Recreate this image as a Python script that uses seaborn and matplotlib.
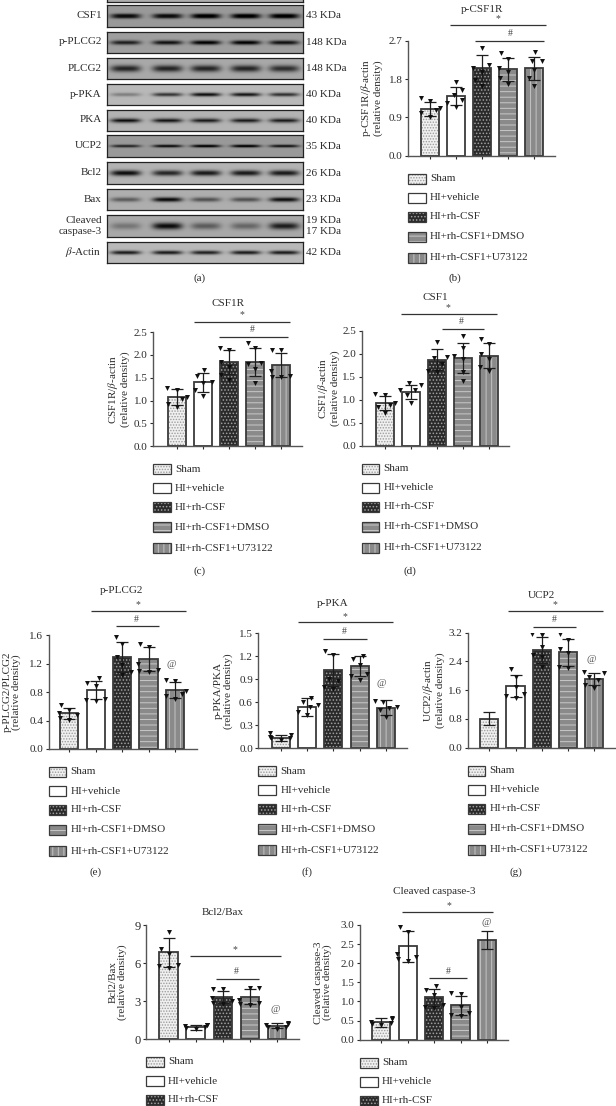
import numpy as np
import pandas as pd
import seaborn as sns
import matplotlib.pyplot as plt
from matplotlib.patches import Rectangle
from matplotlib.transforms import Affine2D

W, H = 616, 1106
groups = ["Sham", "HI+vehicle", "HI+rh-CSF", "HI+rh-CSF1+DMSO", "HI+rh-CSF1+U73122"]

# blot rows
blot_names = ["CSF1", "p-PLCG2", "PLCG2", "p-PKA", "PKA", "UCP2", "Bcl2", "Bax", "Cleaved\ncaspase-3", r"$\beta$-Actin"]
blot_kda = ["43 KDa", "148 KDa", "148 KDa", "40 KDa", "40 KDa", "35 KDa", "26 KDa", "23 KDa", "19 KDa\n17 KDa", "42 KDa"]
blot_strength = [
    [0.55, 0.55, 0.62, 0.62, 0.62],
    [0.50, 0.55, 0.62, 0.62, 0.55],
    [0.52, 0.52, 0.52, 0.52, 0.48],
    [0.22, 0.50, 0.65, 0.62, 0.52],
    [0.68, 0.65, 0.62, 0.62, 0.62],
    [0.45, 0.55, 0.60, 0.60, 0.52],
    [0.65, 0.55, 0.60, 0.60, 0.60],
    [0.32, 0.64, 0.36, 0.36, 0.62],
    [0.20, 0.62, 0.30, 0.26, 0.55],
    [0.60, 0.60, 0.58, 0.60, 0.60],
]
blot_thick = [2.0, 2.2, 3.4, 1.9, 2.6, 1.5, 2.8, 2.3, 3.4, 2.0]
blot_bg = [0.60, 0.62, 0.66, 0.72, 0.70, 0.60, 0.70, 0.68, 0.66, 0.72]
blot_top = [5.3, 31.7, 58.0, 84.3, 109.7, 135.3, 162.3, 189.0, 215.3, 242.3]
blot_bottom = [26.7, 52.7, 79.3, 105.3, 131.3, 157.3, 184.0, 210.3, 237.0, 263.3]
lane_x = [125, 166.7, 205, 245, 283.3]

# bar panels
means_b = [1.10, 1.40, 2.06, 2.03, 2.06]
sds_b = [0.16, 0.21, 0.31, 0.26, 0.27]
points_b = [[1.35, 1.28, 1.13, 1.08, 1.00, 0.92], [1.74, 1.55, 1.43, 1.31, 1.23, 1.15],
            [2.53, 2.13, 2.06, 1.98, 1.78, 1.64], [2.41, 2.27, 2.06, 1.98, 1.82, 1.69],
            [2.43, 2.23, 2.23, 2.02, 1.82, 1.64]]
means_c = [1.08, 1.40, 1.84, 1.84, 1.78]
sds_c = [0.17, 0.21, 0.26, 0.31, 0.27]
points_c = [[1.27, 1.23, 1.07, 1.04, 0.92, 0.87], [1.67, 1.54, 1.41, 1.38, 1.23, 1.11],
            [2.16, 2.11, 1.85, 1.74, 1.56, 1.45], [2.27, 2.14, 1.83, 1.81, 1.68, 1.39],
            [2.11, 2.11, 1.65, 1.54, 1.52, 1.51]]
means_d = [0.92, 1.17, 1.87, 1.90, 1.96]
sds_d = [0.15, 0.16, 0.23, 0.33, 0.27]
points_d = [[1.12, 1.10, 0.92, 0.88, 0.85, 0.72], [1.37, 1.32, 1.22, 1.21, 1.10, 0.92],
            [2.26, 1.92, 1.90, 1.78, 1.63, 1.61], [2.38, 2.12, 1.95, 1.88, 1.61, 1.41],
            [2.33, 2.22, 1.99, 1.88, 1.70, 1.63]]
means_e = [0.50, 0.83, 1.29, 1.27, 0.83]
sds_e = [0.08, 0.13, 0.21, 0.17, 0.11]
points_e = [[0.62, 0.55, 0.51, 0.48, 0.44, 0.41], [1.00, 0.93, 0.88, 0.71, 0.69, 0.67],
            [1.58, 1.48, 1.29, 1.18, 1.09, 1.04], [1.48, 1.43, 1.19, 1.11, 1.10, 1.09],
            [0.97, 0.95, 0.82, 0.78, 0.75, 0.70]]
means_f = [0.13, 0.54, 1.02, 1.07, 0.53]
sds_f = [0.04, 0.12, 0.21, 0.13, 0.10]
points_f = [[0.20, 0.17, 0.15, 0.13, 0.13, 0.11], [0.66, 0.61, 0.57, 0.54, 0.48, 0.43],
            [1.27, 1.22, 0.91, 0.88, 0.80, 0.78], [1.20, 1.17, 1.09, 0.97, 0.94, 0.89],
            [0.62, 0.61, 0.54, 0.52, 0.50, 0.41]]
means_g = [0.80, 1.71, 2.71, 2.65, 1.91]
sds_g = [0.18, 0.30, 0.36, 0.38, 0.17]
points_g = [[], [2.18, 1.96, 1.68, 1.49, 1.44, 1.37],
            [3.15, 3.14, 2.79, 2.58, 2.51, 2.25], [3.16, 3.01, 2.74, 2.63, 2.25, 2.23],
            [2.11, 2.07, 1.98, 1.88, 1.74, 1.65]]
means_h = [6.84, 0.92, 3.34, 3.34, 1.03]
sds_h = [1.16, 0.18, 0.48, 0.58, 0.20]
points_h = [[8.47, 7.10, 6.71, 5.84, 5.79, 5.63], [1.10, 1.10, 1.05, 0.92, 0.90, 0.79],
            [3.92, 3.92, 3.20, 3.03, 2.87, 2.76], [4.05, 4.00, 3.08, 2.82, 2.74, 2.68],
            [1.24, 1.18, 1.10, 0.97, 0.92, 0.79]]
means_i = [0.45, 2.44, 1.11, 0.90, 2.61]
sds_i = [0.11, 0.41, 0.22, 0.25, 0.24]
points_i = [[0.58, 0.55, 0.47, 0.43, 0.40, 0.38], [2.96, 2.82, 2.24, 2.15, 2.10, 2.06],
            [1.40, 1.30, 1.17, 0.91, 0.86, 0.84], [1.23, 1.19, 0.86, 0.71, 0.65, 0.62], []]

ticks_b = ["0.0", "0.9", "1.8", "2.7"]
ticks_25 = ["0.0", "0.5", "1.0", "1.5", "2.0", "2.5"]
ticks_e = ["0.0", "0.4", "0.8", "1.2", "1.6"]
ticks_f = ["0.0", "0.3", "0.6", "0.9", "1.2", "1.5"]
ticks_g = ["0.0", "0.8", "1.6", "2.4", "3.2"]
ticks_h = ["0", "3", "6", "9"]
ticks_i = ["0.0", "0.5", "1.0", "1.5", "2.0", "2.5", "3.0"]

panels = [
    dict(m=means_b, s=sds_b, p=points_b, t=ticks_b, box=(408, 555, 41, 155.7), c0=430, c4=533.7, ylab=r"p-CSF1R/$\beta$-actin", lab=-37,
         title=("p-CSF1R", 481.7, 9), star=(497.7, 19, 25, 450, 545.7), hash=(510, 34, 41.3, 475, 544), at=None, tag=("(b)", 455, 277.7), n=5),
    dict(m=means_c, s=sds_c, p=points_c, t=ticks_25, box=(153, 302, 332, 446.3), c0=176.7, c4=281, ylab=r"CSF1R/$\beta$-actin", lab=-35,
         title=("CSF1R", 228, 303), star=(241.7, 315, 321.7, 194, 290), hash=(252, 329, 336.7, 219, 288), at=None, tag=("(c)", 200, 571), n=5),
    dict(m=means_d, s=sds_d, p=points_d, t=ticks_25, box=(361.7, 509, 330.7, 445.7), c0=384.7, c4=489.3, ylab=r"CSF1/$\beta$-actin", lab=-34,
         title=("CSF1", 435, 298), star=(448.3, 307.3, 314, 401, 496.7), hash=(461.7, 321, 328.7, 441.7, 484.3), at=None, tag=("(d)", 410, 571), n=5),
    dict(m=means_e, s=sds_e, p=points_e, t=ticks_e, box=(48.7, 196.7, 635.3, 749), c0=69.3, c4=175, ylab="p-PLCG2/PLCG2", lab=-37,
         title=("p-PLCG2", 121.7, 590.7), star=(138.3, 604.7, 611, 90.7, 186.3), hash=(136.7, 619.3, 626, 116, 159.3), at=(171.7, 664.3), tag=("(e)", 95.7, 871.7), n=5),
    dict(m=means_f, s=sds_f, p=points_f, t=ticks_f, box=(258.3, 406.7, 633.3, 748.3), c0=280.7, c4=386, ylab="p-PKA/PKA", lab=-35,
         title=("p-PKA", 332.3, 603.3), star=(345.3, 616.7, 622.3, 297.7, 393.3), hash=(344.3, 631, 638.7, 323.3, 366.7), at=(381.7, 684), tag=("(f)", 306.7, 871.7), n=5),
    dict(m=means_g, s=sds_g, p=points_g, t=ticks_g, box=(467.7, 616, 632.7, 747.7), c0=489.3, c4=594.3, ylab=r"UCP2/$\beta$-actin", lab=-35,
         title=("UCP2", 541.7, 595), star=(555, 605, 611, 507.7, 603.3), hash=(554.3, 620, 627.3, 533.3, 576), at=(591.7, 660), tag=("(g)", 515.7, 871.7), n=5),
    dict(m=means_h, s=sds_h, p=points_h, t=ticks_h, box=(146, 299, 925, 1039), c0=168.7, c4=277, ylab="Bcl2/Bax", lab=-28.5,
         title=("Bcl2/Bax", 222.7, 912.3), star=(235.3, 949.7, 956, 190, 281), hash=(236, 971.3, 978.7, 215.7, 258.7), at=(275.7, 1009), tag=None, n=3),
    dict(m=means_i, s=sds_i, p=points_i, t=ticks_i, box=(360, 508, 925, 1039.7), c0=381.3, c4=487, ylab="Cleaved caspase-3", lab=-37,
         title=("Cleaved caspase-3", 434.3, 892), star=(449.3, 906, 912.3, 401.7, 492.7), hash=(448.3, 971, 978, 429.3, 466.7), at=(486.7, 922.3), tag=None, n=3),
]

sns.set_style("white")
plt.rcParams["font.family"] = ["Liberation Serif", "DejaVu Serif"]
plt.rcParams["mathtext.fontset"] = "stix"
plt.rcParams["hatch.linewidth"] = 0.7

INK = "#2b2b2b"
FS = 8
faces = ["#f0f0f0", "#ffffff", "#2a2a2a", "#8a8a8a", "#8a8a8a"]
hatch_cols = ["#9c9c9c", "#ffffff", "#a0a0a0", "#c9c9c9", "#c4c4c4"]
hatches = ["......", None, ".....", "---", "|||"]
rows = [23, 42, 61, 81, 102]

fig = plt.figure(figsize=(W / 100, H / 100), dpi=100, facecolor="white")
over = fig.add_axes([0, 0, 1, 1], zorder=10)
over.set_xlim(0, W)
over.set_ylim(H, 0)
over.axis("off")
over.patch.set_alpha(0)


def add_ax(x0, x1, ytop, y0):
    return fig.add_axes([x0 / W, 1 - y0 / H, (x1 - x0) / W, (y0 - ytop) / H])


def blot_row(top, bottom, bg, strength, thick):
    ax = add_ax(106.7, 302.7, top, bottom)
    ny = max(int(round(bottom - top)), 2)
    yy, xx = np.mgrid[0:ny, 0:196]
    img = np.full((ny, 196), bg, dtype=float)
    for lane, s in zip(lane_x, strength):
        dx = (xx + 106.7 - lane) / 15.0
        dy = (yy - ny * 0.48) / thick
        img -= s * np.exp(-dx ** 4) * np.exp(-dy ** 2)
    sns.heatmap(img, cmap="gray", vmin=0, vmax=1, cbar=False, xticklabels=False, yticklabels=False, ax=ax)
    for sp in ax.spines.values():
        sp.set_visible(True)
        sp.set_color("#222222")
        sp.set_linewidth(0.9)


# top sliver of the cropped row
blot_row(-6, 1.5, 0.68, [0, 0, 0, 0, 0], 2)
for i, name in enumerate(blot_names):
    blot_row(blot_top[i], blot_bottom[i], blot_bg[i], blot_strength[i], blot_thick[i])
    mid = (blot_top[i] + blot_bottom[i]) / 2
    over.text(101.7, mid - 0.5, name, ha="right", va="center", fontsize=FS, color=INK, linespacing=1.25, multialignment="right")
    over.text(305.7, mid, blot_kda[i], ha="left", va="center", fontsize=FS, color=INK, linespacing=1.3)
over.text(200, 278, "(a)", ha="center", va="center", fontsize=FS, color=INK)

for pan in panels:
    x0, x1, ytop, y0 = pan["box"]
    ax = add_ax(x0, x1, ytop, y0)
    ax.patch.set_alpha(0)
    bars = pd.DataFrame({"group": groups, "value": pan["m"]})
    pts = pd.DataFrame([(g, v) for g, vals in zip(groups, pan["p"]) for v in vals], columns=["group", "value"])

    sns.barplot(data=bars, x="group", y="value", hue="group", order=groups, hue_order=groups, palette=faces,
                width=0.69, dodge=False, saturation=1, legend=False, errorbar=None, ax=ax, zorder=1)
    for bar, hc, ht in zip(ax.patches, hatch_cols, hatches):
        bar.set_edgecolor(hc)
        bar.set_hatch(ht)
        bar.set_linewidth(0)
    sns.barplot(data=bars, x="group", y="value", order=groups, fill=False, color="#3a3a3a", linewidth=1.3,
                width=0.69, errorbar=None, ax=ax, zorder=2)
    ax.errorbar(range(5), pan["m"], yerr=pan["s"], fmt="none", ecolor="#1e1e1e", elinewidth=0.9, capsize=4, capthick=0.9, zorder=3)
    # swarm laid out with a wide marker so the spread is like the figure,
    # the swarm reads the size at draw time so only the path gets smaller
    n_before = len(ax.collections)
    sns.swarmplot(data=pts, x="group", y="value", order=groups, marker="v", size=6.5, linewidth=0, color="#111111", ax=ax, zorder=4, warn_thresh=1)
    for coll in ax.collections[n_before:]:
        coll.set_paths([p.transformed(Affine2D().scale(0.55)) for p in coll.get_paths()])

    step = (pan["c4"] - pan["c0"]) / 4
    ax.set_xlim((x0 - pan["c0"]) / step, (x1 - pan["c0"]) / step)
    ax.set_ylim(0, float(pan["t"][-1]))
    ax.set_yticks([float(t) for t in pan["t"]], pan["t"])
    ax.set_xticks(range(5), [""] * 5)
    ax.set_xlabel("")
    ax.set_ylabel(pan["ylab"] + "\n(relative density)", fontsize=FS, color=INK, labelpad=0, linespacing=1.0, va="center")
    ax.yaxis.set_label_coords(pan["lab"] / (x1 - x0), 0.5)
    ax.tick_params(axis="y", length=2.4, width=0.8, labelsize=FS + (1 if pan["t"] is ticks_h else 0), colors=INK, pad=1.5, left=True)
    ax.tick_params(axis="x", length=2.2, width=0.8, color=INK, bottom=True)
    sns.despine(ax=ax)
    for side in ("left", "bottom"):
        ax.spines[side].set_color("#555555")
        ax.spines[side].set_linewidth(1.0)

    txt, tx, ty = pan["title"]
    over.text(tx, ty, txt, ha="center", va="center", fontsize=FS, color=INK)
    for mark, key in (("*", "star"), ("#", "hash")):
        mx, my, ly, lx0, lx1 = pan[key]
        over.text(mx, my, mark, ha="center", va="center", fontsize=FS - 1, color="#444444")
        over.plot([lx0, lx1], [ly, ly], color="#333333", lw=0.9, solid_capstyle="butt")
    if pan["at"]:
        over.text(pan["at"][0], pan["at"][1], "@", ha="center", va="center", fontsize=FS - 0.5, color="#555555")
    if pan["tag"]:
        over.text(pan["tag"][1], pan["tag"][2], pan["tag"][0], ha="center", va="center", fontsize=FS, color=INK)

    # hand placed legend, as in the figure
    for k in range(pan["n"]):
        ry = y0 + rows[k]
        over.add_patch(Rectangle((x0, ry - 5), 17.5, 10, facecolor=faces[k], edgecolor=hatch_cols[k], hatch=hatches[k], lw=0))
        over.add_patch(Rectangle((x0, ry - 5), 17.5, 10, fill=False, edgecolor="#3a3a3a", lw=0.9))
        over.text(x0 + 22, ry, groups[k], ha="left", va="center", fontsize=FS, color=INK)

fig.savefig("out.png", dpi=100, facecolor="white")
